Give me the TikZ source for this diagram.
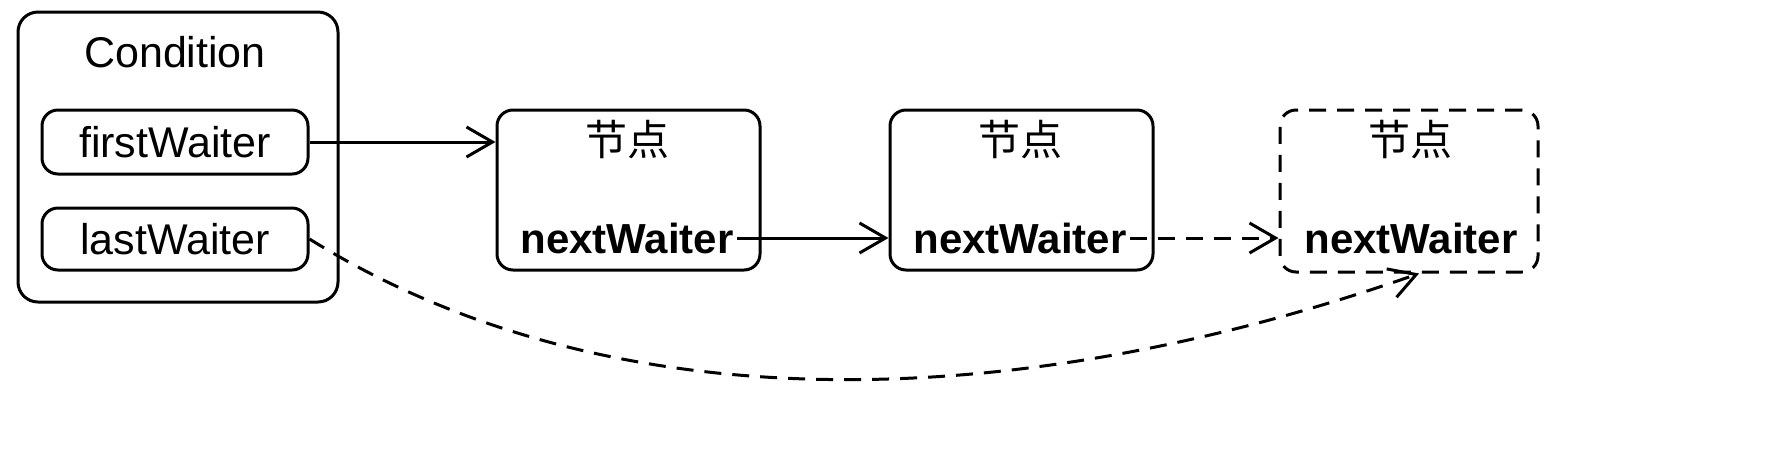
\documentclass[tikz,border=0pt]{standalone}
\usepackage{fontspec}
\setmainfont{Liberation Sans}
\newfontfamily\cjk{Noto Sans CJK SC}
\usetikzlibrary{arrows.meta}

\begin{document}
\begin{tikzpicture}
        [x=0.5pt,y=-0.5pt,line width=1.5pt,
         box/.style={draw,rounded corners=8pt,inner sep=0},
         txt/.style={inner sep=1pt,font=\fontsize{21.5}{24}\selectfont},
         bold/.style={inner sep=1pt,font=\fontsize{21}{24}\selectfont\bfseries},
         head/.style={inner sep=1pt,font=\fontsize{21}{24}\selectfont\cjk},
         tip/.style={-{Straight Barb[length=13pt,width=15pt]}},
         dsh/.style={dash pattern=on 8.5pt off 5.5pt}]

        \useasboundingbox (0,0) rectangle (1784,462);

        \node[box,rounded corners=10pt,minimum width=160pt,minimum height=145pt] (cond) at (178,157) {};
        \node[txt] (ct) at (175,52) {Condition};
        \node[box,txt,minimum width=133pt,minimum height=32pt] (first) at (175,142) {firstWaiter};
        \node[box,txt,minimum width=133pt,minimum height=31pt] (last) at (175,239) {lastWaiter};

        \node[box,minimum width=131.5pt,minimum height=80pt] (n1) at (628.5,190) {};
        \node[box,minimum width=131.5pt,minimum height=80pt] (n2) at (1021.5,190) {};
        \node[box,dsh,minimum width=129pt,minimum height=81pt] (n3) at (1409,191) {};

        \node[head] (h1) at (627,140) {节点};
        \node[head] (h2) at (1020,140) {节点};
        \node[head] (h3) at (1410,140) {节点};

        \node[bold] (w1) at (627,238) {nextWaiter};
        \node[bold] (w2) at (1020,238) {nextWaiter};
        \node[bold] (w3) at (1411,238) {nextWaiter};

        \draw[tip] (first.east) -- (first.east -| n1.west);
        \draw[tip] (w1.east) -- (w1.east -| n2.west);
        \draw[tip,dsh] (w2.east) -- (w2.east -| n3.west);
        \draw[tip,dsh] (last.east) .. controls (600,420) and (1000,420) .. ([xshift=5pt]n3.south);
      \end{tikzpicture}
\end{document}
